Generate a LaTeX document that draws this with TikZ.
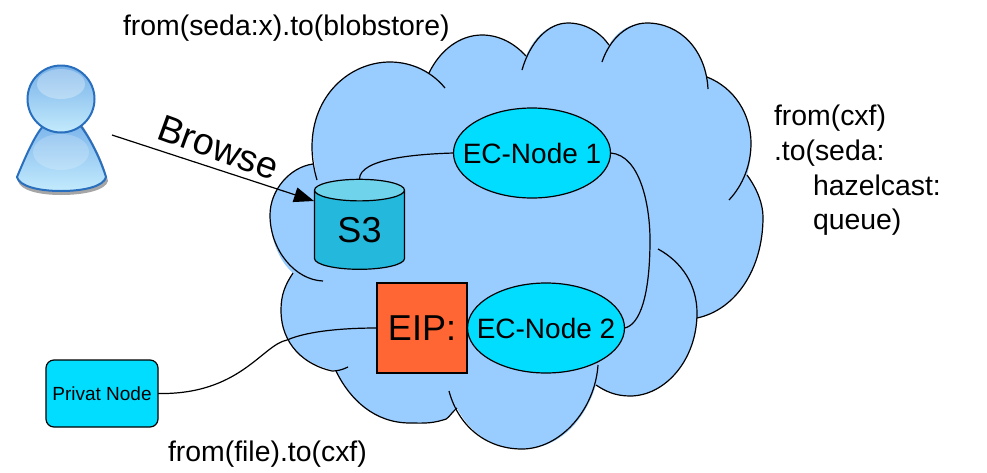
\documentclass[tikz,border=0pt]{standalone}
\usepackage{fontspec}
\setmainfont{Liberation Sans}
\usetikzlibrary{shapes.geometric,arrows.meta}
\definecolor{cloudc}{HTML}{99CCFF}
\definecolor{ecc}{HTML}{00DDFF}
\definecolor{sbody}{HTML}{23B8DC}
\definecolor{stop}{HTML}{6FD3EC}
\definecolor{eipc}{HTML}{FF6633}
\definecolor{perb}{HTML}{2A6FBE}
\definecolor{perA}{HTML}{7DB6EC}
\definecolor{perB}{HTML}{C4EBFD}
\tikzset{
  line/.style={draw=black,line width=1.2pt},
  ecnode/.style={ellipse,draw=black,line width=1.2pt,fill=ecc,minimum width=157pt,minimum height=90pt,inner sep=0pt,outer sep=0pt,font=\fontsize{28}{32}\selectfont},
  caption/.style={anchor=base west,inner sep=0pt,outer sep=0pt,font=\fontsize{28.4}{34.5}\selectfont},
  lobe/.style={draw=black,line width=1.2pt}
}
\begin{document}
\begin{tikzpicture}[x=1pt,y=-1pt]
\useasboundingbox (0,0) rectangle (987,472);
% cloud fill
\fill[cloudc] (317,180) -- (312,147) .. controls (312,95) and (350,62) .. (390,62) .. controls (405,62) and (420,66) .. (429,73)
 .. controls (440,50) and (460,35) .. (482,35) .. controls (500,35) and (515,44) .. (526,56)
 .. controls (535,35) and (550,23) .. (568,23) .. controls (585,23) and (600,32) .. (609,45)
 .. controls (617,31) and (630,23) .. (647,23) .. controls (680,23) and (702,50) .. (707,77)
 .. controls (735,88) and (751,115) .. (751,143) .. controls (751,155) and (750,165) .. (747,175)
 .. controls (758,190) and (763,205) .. (763,217) .. controls (763,270) and (735,310) .. (697,318)
 .. controls (695,360) and (665,396) .. (630,396) .. controls (615,396) and (605,391) .. (596,385)
 .. controls (585,420) and (560,449) .. (522,449) .. controls (490,449) and (468,430) .. (457,408)
 .. controls (450,414) and (448,420) .. (443,420) .. controls (430,424) and (420,423) .. (410,423)
 .. controls (375,423) and (350,400) .. (336,371) .. controls (305,365) and (281,345) .. (281,310)
 .. controls (281,295) and (285,285) .. (293,273) .. controls (280,262) and (270,240) .. (270,215)
 .. controls (270,190) and (290,167) .. (313,164) -- cycle;
% cloud outline arcs
\draw[lobe] (317,180) .. controls (314,170) and (312,158) .. (312,147) .. controls (312,95) and (350,62) .. (390,62) .. controls (412,62) and (432,72) .. (445,88);
\draw[lobe] (429,73) .. controls (440,50) and (460,35) .. (482,35) .. controls (500,35) and (515,44) .. (526,56);
\draw[lobe] (522,70) .. controls (530,42) and (548,23) .. (568,23) .. controls (585,23) and (600,32) .. (609,45);
\draw[lobe] (602,62) .. controls (610,38) and (628,23) .. (647,23) .. controls (680,23) and (706,50) .. (708,89);
\draw[lobe] (707,77) .. controls (735,88) and (751,115) .. (751,143) .. controls (751,165) and (743,185) .. (729,200);
\draw[lobe] (747,175) .. controls (758,190) and (763,205) .. (763,217) .. controls (763,270) and (735,310) .. (697,318);
\draw[lobe] (658,249) .. controls (682,262) and (697,285) .. (697,313) .. controls (697,360) and (665,396) .. (630,396) .. controls (615,396) and (605,391) .. (596,385);
\draw[lobe] (598,365) .. controls (595,410) and (560,449) .. (522,449) .. controls (485,449) and (458,425) .. (449,391);
\draw[lobe] (457,408) .. controls (450,414) and (448,420) .. (443,420) .. controls (430,424) and (420,423) .. (410,423) .. controls (375,423) and (350,400) .. (336,371);
\draw[lobe] (348,367) .. controls (342,370) and (337,371) .. (332,371) .. controls (305,365) and (281,345) .. (281,310) .. controls (281,295) and (285,285) .. (293,273);
\draw[lobe] (323,281) .. controls (295,280) and (270,250) .. (270,215) .. controls (270,190) and (290,167) .. (313,164);
% person
\fill[gray!70] (18,181) .. controls (28,155) and (38,135) .. (46,125) -- (82,125) .. controls (92,140) and (103,160) .. (108,181) .. controls (106,190) and (85,195) .. (61,195) .. controls (38,195) and (20,190) .. (18,181) -- cycle;
\path[draw=perb,line width=2pt,top color=perA,bottom color=perB] (17,177) .. controls (27,153) and (35,135) .. (44,125) -- (80,125) .. controls (90,138) and (100,158) .. (106,177) .. controls (104,186) and (85,191) .. (61,191) .. controls (38,191) and (19,186) .. (17,177) -- cycle;
\path[draw=perb,line width=2pt,top color=perA!90!perb,bottom color=perB] (61,99) circle (33.5);
\fill[white,opacity=.3] (61,84) ellipse (24 and 15);
\fill[white,opacity=.2] (61,152) ellipse (28 and 18);
% shapes
\node[cylinder,shape border rotate=90,aspect=.49,draw=black,line width=1.2pt,cylinder uses custom fill,cylinder body fill=sbody,cylinder end fill=stop,minimum width=90pt,minimum height=90pt,inner sep=0pt,outer sep=0pt,font=\fontsize{36}{40}\selectfont] (s3) at (359.5,230) {S3};
\node[ecnode] (ec1) at (532,153) {\makebox[0pt]{EC-Node 1}};
\node[ecnode] (ec2) at (546,328) {\makebox[0pt]{EC-Node 2}};
\node[rectangle,draw=black,line width=1.2pt,fill=eipc,minimum width=90pt,minimum height=90pt,inner sep=0pt,outer sep=0pt,font=\fontsize{36}{40}\selectfont] (eip) at (422,328) {EIP:};
\node[rectangle,rounded corners=8pt,draw=black,line width=1.2pt,fill=ecc,minimum width=112pt,minimum height=67pt,inner sep=0pt,outer sep=0pt,font=\fontsize{19}{22}\selectfont] (priv) at (102,393.5) {Privat Node};
% connectors
\coordinate (userpt) at (112,135);
\draw[line,-{Triangle[length=20pt,width=15pt]}] (userpt) -- (314,201);
\draw[line] (ec1.west) .. controls (420,154) and (359,158) .. (s3.top);
\draw[line] (ec1.east) .. controls (640,155) and (650,205) .. (650,240) .. controls (650,295) and (640,325) .. (ec2.east);
\draw[line] (priv.east) .. controls (240,395) and (262,345) .. (287,340) .. controls (310,330) and (350,328) .. (eip.west);
% texts
\node[anchor=center,rotate=-20,inner sep=0pt,font=\fontsize{37.5}{40}\selectfont] (browse) at (218.5,147.5) {Browse};
\node[caption] (t1) at (123,35) {from(seda:x).to(blobstore)};
\node[caption] (t2) at (168,461) {from(file).to(cxf)};
\node[caption] (t3a) at (774,125) {from(cxf)};
\node[caption] (t3b) at (774,160) {.to(seda:};
\node[caption] (t3c) at (813,195) {hazelcast:};
\node[caption] (t3d) at (813,229) {queue)};
\end{tikzpicture}
\end{document}
